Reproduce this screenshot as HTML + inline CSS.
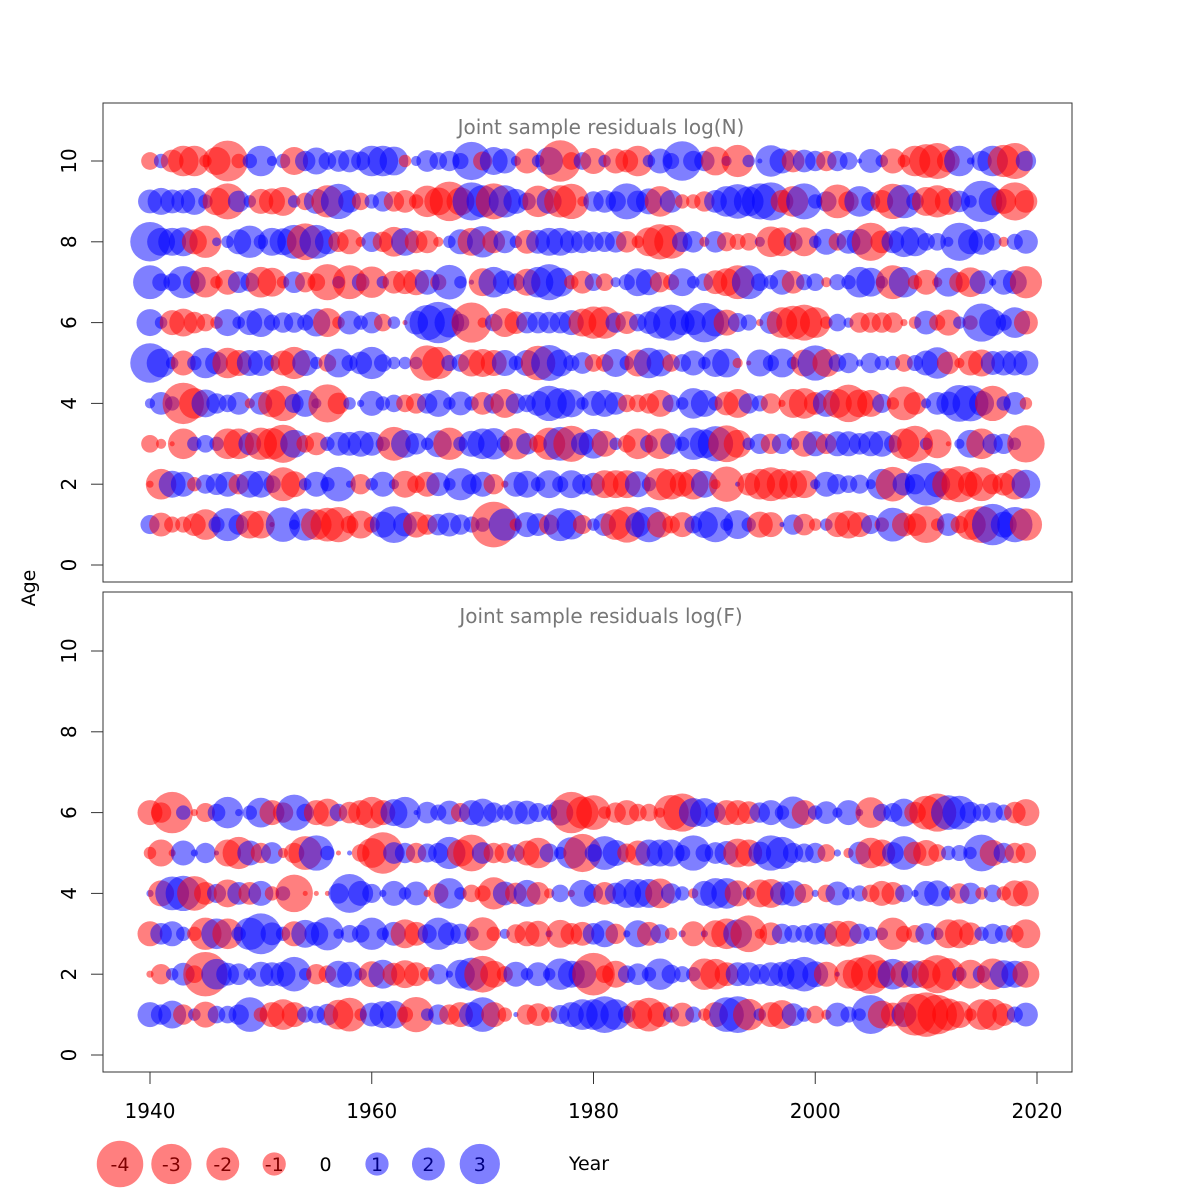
<!DOCTYPE html>
<html><head><meta charset="utf-8"><style>
html,body{margin:0;padding:0;background:#fff;}
svg{display:block;font-family:"DejaVu Sans","Liberation Sans",sans-serif;}
</style></head><body>
<svg id="chart" width="1200" height="1200" viewBox="0 0 1200 1200" xmlns="http://www.w3.org/2000/svg">
<rect x="0" y="0" width="1200" height="1200" fill="#fff"/>
<g id="panelN"></g>
<g id="panelF"></g>
<g id="axes"></g>
<g id="legend"></g>
</svg>
<script>
const years = []; for (let y = 1940; y <= 2019; y++) years.push(y);
const xTicks = [1940, 1960, 1980, 2000, 2020];
const yTicks = [0, 2, 4, 6, 8, 10];
const legendValues = [-4, -3, -2, -1, 0, 1, 2, 3];

const logN_age10 = [-0.6,0.4,-1,-1.8,-1.8,-0.3,-1.5,-3.2,-0.4,0.4, 1.8,0.2,0.4,-1.5,0.8,1.4,0.6,0.9,1,0.7, 1.8,1.8,1.6,-0.3,0.2,0.9,0.6,0.8,0.5,2.8, -0.7,1.5,1.2,0.2,-1.2,0.3,1.5,-3.3,-0.6,0.6, -1.3,0.3,-1.2,-1,-1.8,0.3,1.2,0.5,3,0.8, 0.8,-1.6,0.2,-2,0.3,0.05,1.9,1.2,-1,1, 0.8,-0.8,0.8,0.6,0.05,1.1,0.3,-1.2,-0.3,-1.8, -2.2,-2.5,-1,1.8,0.1,0.8,1.8,-2,-2.5,0.8];
const logN_age9 = [1.1,1.4,1.1,1.1,1.4,0.4,-1.5,-2.5,0.9,0.3, -1.2,-1.3,-1.6,0.3,-0.6,1.2,-2,2.4,1,-0.6, 0.4,0.8,-0.8,-1,-0.4,-1.9,-1.5,-3,-1.5,2.8, 2,-2.5,2,1.2,0.6,-1.9,1.2,-2,-2.4,-0.2, 0.8,1,0.8,2.5,0.9,1.3,-1.8,1,-0.4,-0.4, -0.8,1,1.8,2.3,1.7,2.5,2.8,-1,-1.8,2.5, 0.4,0.8,-2.2,-0.8,1.8,0.7,-1,-2.4,2.2,0.6, -1.6,-2,-1.4,0.9,0.3,3.3,1.5,-1.2,-2.8,-1];
const logN_age8 = [3,1.5,1.5,1.6,-1.2,-2,0.15,0.3,1.2,2, 0.4,1.5,1.4,2.2,-2.6,2.2,1.2,-0.8,-1.2,-0.2, 0.8,-0.8,-1.7,1.5,-1,-1,-0.2,0.3,1.2,-1.5, 1.9,-1,1,0.3,-1.1,1.1,1.5,1.5,1,1, 0.8,0.8,0.9,-0.9,-0.3,-1.6,-2.4,-2.2,0.8,0.9, -0.2,0.9,-0.7,-0.5,-0.6,0.2,-1.8,-1.6,0.7,-1.6, 0.3,1.3,-0.6,1.1,1.3,-2.8,-1,1,1.8,1.6, 0.6,0.6,0.2,2.8,1.2,1.3,0.6,-0.2,0.5,1.1];
const logN_age7 = [2.2,0.6,0.6,2,1,-1.8,-0.3,-1.2,0.9,0.7, -1.8,-1.6,-0.3,0.9,-0.8,-0.6,-2.5,0.3,-2.2,0.6, -1.9,0.3,-1,-1.1,-1.3,1.2,-0.5,2.3,0.3,0.05, -1.5,1.8,1.1,0.6,-1.4,1.8,2.5,1.6,-0.4,-1, 0.6,-0.6,0.2,0.5,1.5,1.3,-0.8,-0.5,1.5,0.3, 0.6,-1.1,-1.5,-2.2,2.2,0.6,0.4,1.2,-1,0.5, 0.6,-0.2,0.5,0.4,1.8,1.6,0.3,-2.2,1.8,-0.4, -1.2,-0.2,1.6,-0.8,-1.7,1.1,0.1,1.2,1.1,-2];
const logN_age6 = [1.4,0.3,-1.2,-1.5,-0.9,-0.6,-0.3,1.4,0.3,1.2, 1.6,0.5,0.8,0.8,0.5,1.5,-1.6,-0.3,1.1,0.4, 0.9,-0.6,0.3,-0.05,1.1,2.4,3.3,1.7,0.6,-3.1, -0.2,0.6,-1.6,-1,0.9,0.9,0.9,0.9,1.2,-1.5, -2,-2,0.8,-1,0.6,1,2,2.5,1.2,1.2, 3,1.5,-1.3,0.7,0.5,-0.1,1,-1.8,-2.2,-2.5, -1.8,-0.3,0.6,0.2,-0.8,-0.8,-0.8,-0.8,-0.1,-0.3, 1.1,-0.5,-1.3,0.3,-0.4,2.8,1.4,0.5,1.8,-1.1];
const logN_age5 = [3,1.6,0.3,-1.2,0.4,1.8,1,-1.8,-1.3,1.3, 1.3,0.5,-1.2,-2,1.3,0.3,-0.6,1.6,0.5,1, 2,0.6,0.3,0.3,0.3,-2.4,-2,0.5,0.6,-1.4, -1.5,-1.3,1.3,0.4,1.3,-2.3,2.5,1.4,0.5,0.9, -0.6,-0.6,1.5,0.4,-1.4,1.8,1.4,-0.6,0.6,1.2, 0.3,1.5,1.6,-0.2,-0.05,1.4,0.5,1.6,0.3,-1.4, 2.4,-1.5,0.6,0.8,0.1,0.8,0.4,0.4,-0.6,0.5, 1.2,1.9,-1,-0.2,-1.2,-1.4,1.1,1.2,1.2,1.2];
const logN_age4 = [0.2,1,0.4,-3.3,-1.8,1.5,0.8,0.6,1,-0.2, 1,-1.5,-2.4,0.7,1.4,0.2,-2.8,-0.9,0.3,0.1, 1.2,0.4,0.6,-0.6,-0.8,0.8,1.4,0.3,1.1,0.4, -1,0.8,-1.6,0.8,0.6,1.2,2.4,1.8,1.5,0.3, 1.2,1.4,1,-0.6,-0.6,-0.8,-1.4,0.6,0.3,1.8, 1.4,0.4,-1.1,-1.6,0.8,0.5,-0.8,-0.1,-1.6,-1.8, -1,1.4,-1.6,-2.7,-1.5,-1.4,0.7,-0.3,-2.2,-1, 0.2,1,1.1,2.6,2.5,1.2,-2.4,0.4,1,-0.3];
const logN_age3 = [-0.6,-0.2,-0.05,-1.8,0.4,0.6,0.4,-1.8,-1.8,1, -2,-1.9,-2.8,1.5,-0.6,-1,0.4,1.1,1.1,1.3, 1.1,0.4,-2.2,1.5,0.9,0.3,1.4,-2,0.4,1.3, 1.8,1.9,0.5,-1.9,0.9,-0.6,-2,2.2,-2.5,1, 1.7,-1.3,0.3,-0.6,-1.8,0.6,-1.8,0.9,0.4,2, 1.6,2.4,-2.6,-1.5,0.3,0.8,-0.8,0.8,0.3,-1.3, 1.2,-0.8,1.2,1.2,0.9,1.2,1.3,0.6,-1.8,-2.5, 0.3,-1.6,-0.05,0.2,1.5,-1.8,0.8,0.8,0.3,-2.7];
const logN_age2 = [-0.1,-1.8,1.4,1.2,-0.4,0.7,0.9,1.2,-0.8,1.4, 1.4,0.6,-2.2,-1.3,0.3,1.2,0.4,2.3,0.1,-0.8, 0.3,1.2,0.2,-1.4,-0.6,-1.2,1.1,0.3,2,0.8, 1.2,-0.8,-0.1,1.2,1.4,0.4,1.5,0.5,1.5,0.8, 1,-1.5,-1.5,-1.5,1.3,0.4,-2,-1.8,-1.2,-1.8, 1.4,-0.2,-2.4,0.05,-1,-1.8,-2.2,-1.8,-1.5,-1.5, 0.2,1.2,0.8,0.6,0.7,0.2,1.8,-2.3,1,0.8, 3.5,1.3,-2,-2.5,-1.2,-2.2,-0.8,-1,-1.8,1.6];
const logN_age1 = [0.7,-1.1,-0.5,-0.5,-1,-1.8,0.5,2.1,0.8,-1.5, -1.5,-0.05,2.3,0.2,2,-1.8,-2.2,-2.4,-0.6,-1.5, -0.5,1.3,2.6,1.1,-1.3,-0.8,0.9,1.1,0.8,0.5, 0.4,-4,2,-0.3,1.2,1,-0.8,2.1,1.7,-0.7, 0.3,1,-1.8,-2.5,1.2,2.4,-1.3,-0.6,-1.2,0.6, 1.4,2.4,0.3,1.6,0.4,-1.3,-1.2,0.05,0.8,-0.9, -0.3,0.3,-1.2,-1.5,-1.2,0.7,-0.4,2.2,-1.1,-1, -2.6,-0.3,1,-0.6,-1.8,-2.6,3.3,1.3,2.4,-2];

const logF_age6 = [-1.2,-0.8,-3.3,0.4,-0.1,-0.7,0.6,1.9,0.1,0.4, 1.7,-1.2,-0.8,2.5,0.6,-1.2,-1.5,0.6,-0.9,-1.2, -1.9,-1.2,1.4,1.9,0.05,0.9,0.5,1.1,-0.7,1.2, 1.5,0.8,0.5,1.1,1.1,0.7,0.5,1.3,-3.3,-2, -2.3,-0.3,-0.8,-1.2,-0.6,-0.6,-0.2,-2.4,-2.8,1.6, 1.6,0.8,-1.2,-1.2,-1,0.8,1.2,0.4,2,-1.2, 0.4,1,0.2,1.2,0.1,-1.8,0.6,0.7,1.5,-0.9, -2.2,-2.8,2.3,2.2,0.9,0.6,0.8,0.5,-0.9,-1.4];
const logF_age5 = [-0.3,-1.4,-0.1,1.2,0.1,0.8,0.05,-1.4,-2,1.2, -0.8,0.9,-0.2,-0.8,-2.2,2.4,0.4,-0.05,0.05,-0.6, -1.7,-3.3,0.9,0.8,-0.8,0.7,0.8,2,-1.4,-2.6, 0.9,-0.8,-0.8,0.6,-1.2,-1.8,0.7,0.3,1.9,-2.8, 0.6,2.2,1.3,-0.7,-1.2,1.4,1.4,1.4,0.5,2.4, 0.6,0.9,1.1,-1.6,-1.4,1,2.4,2,0.8,0.7, 0.8,-0.6,0.1,-0.2,1,-1.8,-1.4,0.9,2.2,-1, -1.3,-0.6,0.4,0.5,0.3,2.6,-1.3,0.8,-0.8,-0.8];
const logF_age4 = [0.1,-1.3,2.2,2.4,-2.3,-1,0.7,-1.5,1,-1, 1.2,-0.4,0.4,-2.7,-0.05,-0.05,-0.05,0.8,2.9,1.2, 0.7,0.1,1.2,0.3,1.1,-0.1,-0.8,1.8,0.3,-0.6, -0.5,-2,1.1,-0.9,1.4,-1,-0.2,0.6,-0.1,1.4, 0.7,-1,0.9,1.6,1.6,1.6,-1.7,0.8,0.4,-0.2, 1.2,1.8,1.8,-1.3,0.3,-1.5,-1.6,1.1,1.3,-0.7, 0.1,-0.6,1.1,0.3,0.5,-0.6,-1.2,-1,0.6,0.1, 1.2,1.3,0.4,-0.8,0.9,-0.3,0.6,-0.4,-1.3,-1.3];
const logF_age3 = [-1.2,0.9,1.2,0.4,-0.4,-2,1.8,-1.8,0.4,2, 3.2,1,0.4,-1.2,1.5,1.1,2.1,0.2,0.6,0.6, 2,0.3,1.1,-1.6,-1.1,0.7,2,1,0.8,0.4, -2.1,-0.4,0.2,-0.7,-1.2,-1.3,0.1,-1.5,-0.9,-1.1, 0.9,1.4,-0.8,0.1,1.4,-1.1,0.7,-0.3,0.1,-1.2, 0.1,-1.4,-1.8,1.6,-2.6,-0.2,-1,0.8,0.6,0.6, 0.9,0.9,-1.3,-1.3,0.8,0.4,0.3,-2,-0.5,-0.6, 0.9,0.3,-1.6,-1.6,-1,0.4,0.8,0.6,-0.6,-1.6];
const logF_age2 = [-0.1,-0.8,0.3,1,-0.6,-3.8,1.8,1,0.9,0.3, 1.2,1.1,1.2,2.3,0.3,-0.8,-0.6,1.4,1.2,0.3, -1.3,1.6,-1,-1.5,-1.1,-0.4,0.8,0.1,1.6,2.1, -2.6,-1.4,-0.5,1.2,0.3,1.1,0.3,1.9,1.4,1.5, -3.5,-0.6,-1.4,0.6,0.9,0.4,1.9,0.7,0.5,0.4, -1.9,-1.8,-1.1,1.1,1.1,0.8,1.1,1.2,1.8,2.3, 1.3,-1.2,0.05,-1.6,-2.2,-3,-1.5,1.8,-1.4,1.5, -1.6,-2.8,-2,0.4,-1.6,0.6,-1.9,1.5,1.4,-1.4];
const logF_age1 = [1.2,0.8,1.5,-0.8,0.3,-1.3,0.6,0.6,0.8,2.3, -0.4,-1.2,-1.8,-1.2,0.5,0.6,0.9,-1.7,-2.2,-0.3, 1.1,1.4,1.5,-0.5,-2.4,0.3,0.8,-0.8,-1.2,1.2, 2.3,-1.2,-0.4,0.05,-0.8,-1,-0.5,0.7,1.2,1.8, 1.8,2.6,1.8,0.6,-1.6,-2.2,-1.2,0.5,-1.1,0.5, -0.3,-1.2,2.3,2.6,-1.9,0.3,-1.2,-1.6,1,0.4, -0.6,-0.2,1.1,0.5,0.3,2.9,-1.5,-1.1,1.2,-3.4, -3.8,-3,-2,-1.4,-0.3,-1.8,-1.9,-1,0.5,1.1];

const NS = 'http://www.w3.org/2000/svg';
function mk(tag, attrs, parent) {
  const el = document.createElementNS(NS, tag);
  for (const k in attrs) el.setAttribute(k, attrs[k]);
  parent.appendChild(el);
  return el;
}
const xScale = yr => 150 + (yr - 1940) * 11.0875;
const yTop = a => 565 - a * 40.4;
const yBot = a => 1055 - a * 40.4;
const rScale = v => 11.4 * Math.sqrt(Math.abs(v));
const RED = 'rgba(255,0,0,0.5)', BLUE = 'rgba(0,0,255,0.5)';

function drawPanel(g, rows, ys, top, bottom, title) {
  const box = mk('rect', {x:103, y:top, width:969, height:bottom-top, fill:'none', stroke:'#333', 'stroke-width':1}, g);
  
  
  const t = mk('text', {x:601, y:top+31, 'text-anchor':'middle', 'font-size':20, fill:'#777'}, g);
  t.textContent = title;
  
  
  yTicks.forEach(v => {
    const y = ys(v);
    const tk = mk('line', {x1:91, x2:103, y1:y, y2:y, stroke:'#333'}, g);
    
    
    const lb = mk('text', {x:0, y:0, transform:`translate(76,${y}) rotate(-90)`, 'text-anchor':'middle', 'font-size':20, fill:'#000'}, g);
    lb.textContent = v;
    
    
  });
  rows.forEach((vals, ai) => {
    const age = ai + 1;
    vals.forEach((v, i) => {
      if (v === 0) return;
      const c = mk('circle', {cx:xScale(years[i]), cy:ys(age), r:rScale(v), fill: v < 0 ? RED : BLUE}, g);
      
      
    });
  });
}
drawPanel(document.getElementById('panelN'),
  [logN_age1,logN_age2,logN_age3,logN_age4,logN_age5,logN_age6,logN_age7,logN_age8,logN_age9,logN_age10],
  yTop, 103, 582, 'Joint sample residuals log(N)');
drawPanel(document.getElementById('panelF'),
  [logF_age1,logF_age2,logF_age3,logF_age4,logF_age5,logF_age6],
  yBot, 592, 1072, 'Joint sample residuals log(F)');

const ax = document.getElementById('axes');
xTicks.forEach(v => {
  const x = xScale(v);
  const tk = mk('line', {x1:x, x2:x, y1:1072, y2:1084, stroke:'#333'}, ax);
  
  
  const lb = mk('text', {x:x, y:1118, 'text-anchor':'middle', 'font-size':20, fill:'#000'}, ax);
  lb.textContent = v;
  
  
});
const ageT = mk('text', {x:0, y:0, transform:'translate(35,588) rotate(-90)', 'text-anchor':'middle', 'font-size':19, fill:'#000'}, ax);
ageT.textContent = 'Age';


const yearT = mk('text', {x:589, y:1170, 'text-anchor':'middle', 'font-size':19, fill:'#000'}, ax);
yearT.textContent = 'Year';



const lg = document.getElementById('legend');
legendValues.forEach((v, i) => {
  const x = 120 + i * 51.4;
  if (v !== 0) {
    const c = mk('circle', {cx:x, cy:1164, r:rScale(v) * 1.02, fill: v < 0 ? RED : BLUE}, lg);
    
    
  }
  const t = mk('text', {x:x, y:1171, 'text-anchor':'middle', 'font-size':19, fill: v < 0 ? '#800000' : (v > 0 ? '#000080' : '#000')}, lg);
  t.textContent = v;
  
  
});
</script>
</body></html>
